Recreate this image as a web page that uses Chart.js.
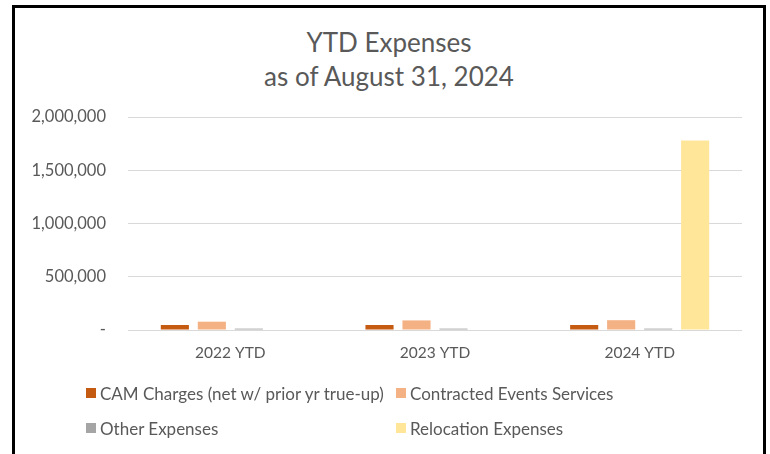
<!DOCTYPE html>
<html>
<head>
<meta charset="utf-8">
<script src="https://cdn.jsdelivr.net/npm/chart.js@4"></script>
<style>
  html, body { margin: 0; padding: 0; background: #fff; }
  #wrap { position: relative; width: 770px; height: 454px; overflow: hidden; }
  #frame {
    position: absolute; left: 12px; top: 5px; width: 748px; height: 520px;
    border: 3px solid #000; border-bottom: none;
  }
  #chart { position: absolute; left: 0; top: 0; }
  #title {
    position: absolute; left: 12px; top: 25px; width: 754px; text-align: center;
    font-family: Lato, sans-serif; font-size: 26px; line-height: 34px; color: #595959;
  }
  #legend {
    position: absolute; left: 86px; top: 384px;
    display: grid; grid-template-columns: 310px 300px; row-gap: 17px;
    font-family: Lato, sans-serif; font-size: 17px; color: #595959;
  }
  #legend .item { display: flex; align-items: center; height: 18px; white-space: nowrap; }
  #legend .box { width: 10px; height: 10px; margin-right: 4px; }
</style>
</head>
<body>
<div id="wrap">
  <div id="frame"></div>
  <div id="title"></div>
  <canvas id="chart" width="770" height="454"></canvas>
  <div id="legend"></div>
</div>
<script>
(() => {
  // Series values per year
  const years       = ['2022 YTD', '2023 YTD', '2024 YTD'];
  const camCharges  = [47000, 47000, 47000];
  const contracted  = [78000, 90000, 92000];
  const otherExp    = [13000, 13000, 13000];
  const relocation  = [0, 0, 1780000];

  const seriesNames = [
    'CAM Charges (net w/ prior yr true-up)',
    'Contracted Events Services',
    'Other Expenses',
    'Relocation Expenses'
  ];
  const seriesColors = ['#C55A11', '#F4B183', '#A5A5A5', '#FFE699'];
  const seriesData   = [camCharges, contracted, otherExp, relocation];

  const titleLines = ['YTD Expenses', 'as of August 31, 2024'];
  const yTicks = { min: 0, max: 2000000, step: 500000 };

  const textColor = '#595959';
  const gridColor = '#D9D9D9';
  const numFmt = new Intl.NumberFormat('en-US');

  // Title sits centred on the framed box, not on the canvas
  const titleEl = document.getElementById('title');
  titleLines.forEach((line) => {
    const d = document.createElement('div');
    d.textContent = line;
    titleEl.appendChild(d);
  });

  const datasets = seriesNames.map((name, i) => ({
    label: name,
    data: seriesData[i],
    backgroundColor: seriesColors[i],
    borderWidth: 0,
    categoryPercentage: 0.723,
    barPercentage: 0.76
  }));

  const chart = new Chart(document.getElementById('chart'), {
    type: 'bar',
    data: { labels: years, datasets },
    options: {
      responsive: false,
      animation: false,
      layout: { padding: { top: 117, right: 28, left: 0, bottom: 0 } },
      plugins: {
        legend: { display: false },
        tooltip: { enabled: false },
        title: { display: false }
      },
      scales: {
        x: {
          grid: { display: false, drawTicks: false },
          border: { display: false },
          ticks: { color: textColor, font: { family: 'Lato', size: 15.5 }, padding: 14 },
          afterFit: (s) => { s.height = 124; }
        },
        y: {
          min: yTicks.min,
          max: yTicks.max,
          grid: { color: gridColor, drawTicks: false },
          border: { display: false },
          ticks: {
            stepSize: yTicks.step,
            color: textColor,
            font: { family: 'Lato', size: 16.5 },
            padding: 22,
            callback: (v) => (v === 0 ? '-' : numFmt.format(v))
          },
          afterFit: (s) => { s.width = 128; }
        }
      }
    }
  });

  // Legend laid out in two columns below the plot
  const legendEl = document.getElementById('legend');
  chart.data.datasets.forEach((ds) => {
    const item = document.createElement('div');
    item.className = 'item';
    const box = document.createElement('span');
    box.className = 'box';
    box.style.background = ds.backgroundColor;
    const label = document.createElement('span');
    label.textContent = ds.label;
    item.appendChild(box);
    item.appendChild(label);
    legendEl.appendChild(item);
  });
})();
</script>
</body>
</html>
